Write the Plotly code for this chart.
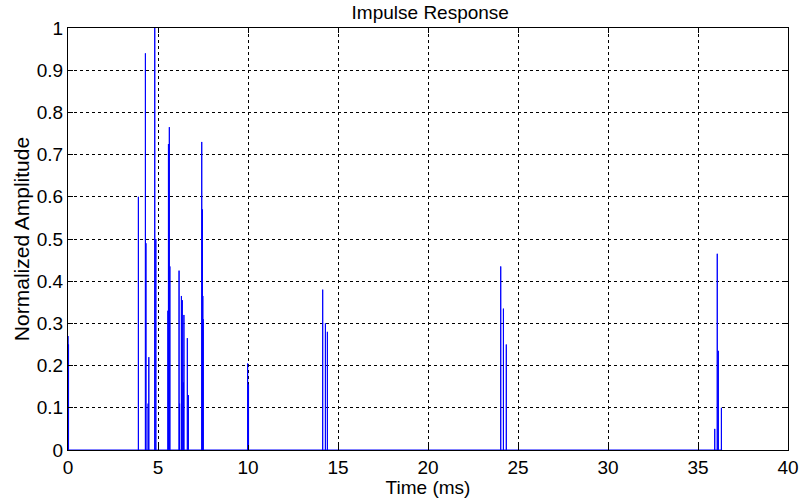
import plotly.graph_objects as go

# impulse arrival times (ms) and normalized amplitudes
spike_times = [0.00, 0.03, 3.91, 4.30, 4.33, 4.45, 4.49, 4.82, 4.88,
               5.55, 5.58, 5.63, 5.66, 6.17, 6.20, 6.30, 6.35, 6.41, 6.44,
               6.63, 6.69, 7.43, 7.47, 7.49, 7.51, 9.98, 10.03,
               14.15, 14.30, 14.41, 24.04, 24.19, 24.35,
               35.93, 36.07, 36.13, 36.30]
spike_amps = [0.27, 0.25, 0.60, 0.94, 0.49, 0.11, 0.22, 1.00, 0.50,
              0.33, 0.725, 0.765, 0.435, 0.425, 0.11, 0.365, 0.355, 0.16, 0.32,
              0.265, 0.13, 0.73, 0.57, 0.365, 0.31, 0.205, 0.155,
              0.38, 0.30, 0.28, 0.435, 0.335, 0.25,
              0.05, 0.465, 0.235, 0.10]
signal_end = 36.34

x_ticks = [0, 5, 10, 15, 20, 25, 30, 35, 40]
y_ticks = [0, 0.1, 0.2, 0.3, 0.4, 0.5, 0.6, 0.7, 0.8, 0.9, 1]
y_tick_text = ["0", "0.1", "0.2", "0.3", "0.4", "0.5", "0.6", "0.7", "0.8", "0.9", "1"]

# build the sampled signal as a polyline: flat zero with vertical spikes
xs, ys = [0.0], [0.0]
for t, a in zip(spike_times, spike_amps):
    xs += [t, t, t]
    ys += [0.0, a, 0.0]
xs.append(signal_end)
ys.append(0.0)

fig = go.Figure()
fig.add_trace(go.Scatter(x=xs, y=ys, mode="lines",
                         line=dict(color="#0000ff", width=1, simplify=False),
                         showlegend=False))

font = "Liberation Sans, Arial, sans-serif"
fig.update_layout(
    width=802, height=498,
    margin=dict(l=68, r=14, t=28, b=48),
    paper_bgcolor="white", plot_bgcolor="white",
    font=dict(family=font, size=19, color="black"),
    title=dict(text="Impulse Response", x=0.5365, xanchor="center",
               y=0.975, yanchor="middle", font=dict(family=font, size=19)),
)
axis_style = dict(
    showline=True, linecolor="black", linewidth=1, mirror="allticks",
    ticks="inside", ticklen=5, tickcolor="black",
    showgrid=True, gridcolor="black", gridwidth=1, griddash="dot",
    zeroline=False, automargin=False,
)
fig.update_xaxes(range=[0, 40], tickvals=x_ticks, ticklabelstandoff=0,
                 title=dict(text="Time (ms)", standoff=0,
                            font=dict(family=font, size=19, color="black")),
                 **axis_style)
fig.update_yaxes(range=[0, 1], tickvals=y_ticks, ticktext=y_tick_text, ticklabelstandoff=0,
                 title=dict(text="Normalized Amplitude", standoff=1,
                            font=dict(family=font, size=21, color="black")),
                 **axis_style)

# drop the browser's default body margin so the figure sits at the page origin
fig.write_html("out.html", config={"displayModeBar": False},
               post_script="document.body.style.margin='0px';")
